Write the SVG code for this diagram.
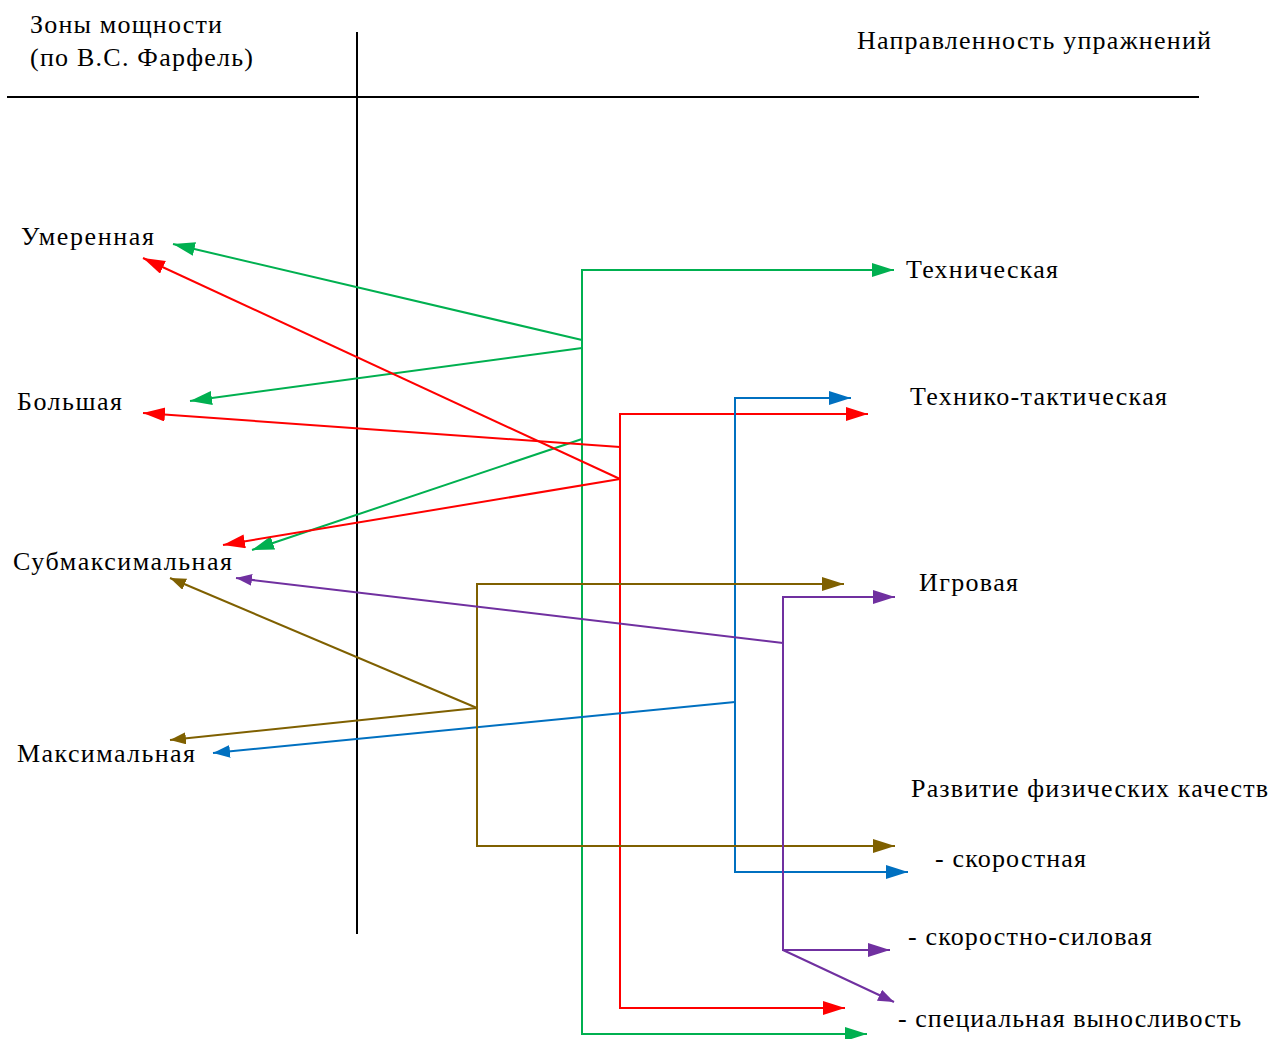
<svg xmlns="http://www.w3.org/2000/svg" width="1272" height="1039" viewBox="0 0 1272 1039">
<style>
text{font-family:"Liberation Serif","Times New Roman",serif;font-size:26px;fill:#000}
.k{stroke:#000;stroke-width:2;fill:none}
.c{fill:none;stroke-width:2}
.g{stroke:#00B050}.r{stroke:#FF0000}.b{stroke:#0070C0}.o{stroke:#7F6000}.p{stroke:#7030A0}
</style>
<defs>
<marker id="ag" markerUnits="userSpaceOnUse" markerWidth="24" markerHeight="16" refX="22" refY="7" orient="auto"><path d="M0,0L22,7L0,14z" fill="#00B050"/></marker>
<marker id="ar" markerUnits="userSpaceOnUse" markerWidth="24" markerHeight="16" refX="22" refY="7" orient="auto"><path d="M0,0L22,7L0,14z" fill="#FF0000"/></marker>
<marker id="ab" markerUnits="userSpaceOnUse" markerWidth="24" markerHeight="16" refX="22" refY="7" orient="auto"><path d="M0,0L22,7L0,14z" fill="#0070C0"/></marker>
<marker id="ao" markerUnits="userSpaceOnUse" markerWidth="24" markerHeight="16" refX="22" refY="7" orient="auto"><path d="M0,0L22,7L0,14z" fill="#7F6000"/></marker>
<marker id="ap" markerUnits="userSpaceOnUse" markerWidth="24" markerHeight="16" refX="22" refY="7" orient="auto"><path d="M0,0L22,7L0,14z" fill="#7030A0"/></marker>
<marker id="sb" markerUnits="userSpaceOnUse" markerWidth="18" markerHeight="14" refX="17" refY="6.5" orient="auto"><path d="M0,0L17,6.5L0,13z" fill="#0070C0"/></marker>
<marker id="so" markerUnits="userSpaceOnUse" markerWidth="18" markerHeight="14" refX="16" refY="6" orient="auto"><path d="M0,0L16,6L0,12z" fill="#7F6000"/></marker>
<marker id="sp" markerUnits="userSpaceOnUse" markerWidth="18" markerHeight="14" refX="16" refY="6" orient="auto"><path d="M0,0L16,6L0,12z" fill="#7030A0"/></marker>
</defs>

<g id="frame">
<line class="k" x1="7" y1="97" x2="1199" y2="97"/>
<line class="k" x1="357" y1="32" x2="357" y2="934"/>
</g>

<g id="header-left"><text x="30" y="33" textLength="192">Зоны мощности</text><text x="30" y="66" textLength="223">(по В.С. Фарфель)</text></g>
<g id="header-right"><text x="857" y="49" textLength="354">Направленность упражнений</text></g>

<g id="zone-moderate"><text x="21" y="245" textLength="133">Умеренная</text></g>
<g id="zone-large"><text x="17" y="410" textLength="105">Большая</text></g>
<g id="zone-submax"><text x="13" y="570" textLength="219">Субмаксимальная</text></g>
<g id="zone-max"><text x="17" y="762" textLength="178">Максимальная</text></g>

<g id="dir-tech"><text x="906" y="278" textLength="152">Техническая</text></g>
<g id="dir-techtact"><text x="910" y="405" textLength="257">Технико-тактическая</text></g>
<g id="dir-game"><text x="919" y="591" textLength="99">Игровая</text></g>
<g id="dir-phys"><text x="911" y="797" textLength="357">Развитие физических качеств</text></g>
<g id="dir-speed"><text x="935" y="867" textLength="151">- скоростная</text></g>
<g id="dir-speedpower"><text x="908" y="945" textLength="244">- скоростно-силовая</text></g>
<g id="dir-endurance"><text x="898" y="1027" textLength="343">- специальная выносливость</text></g>

<g id="connectors">
<!-- green -->
<polyline class="c g" points="582,348 582,270 894,270" marker-end="url(#ag)"/>
<polyline class="c g" points="582,348 582,1034 867,1034" marker-end="url(#ag)"/>
<line class="c g" x1="582" y1="340" x2="173" y2="244" marker-end="url(#ag)"/>
<line class="c g" x1="582" y1="348" x2="190" y2="401" marker-end="url(#ag)"/>
<line class="c g" x1="582" y1="439" x2="252" y2="550" marker-end="url(#ag)"/>
<!-- red -->
<polyline class="c r" points="620,479 620,414 868,414" marker-end="url(#ar)"/>
<polyline class="c r" points="620,479 620,1008 845,1008" marker-end="url(#ar)"/>
<line class="c r" x1="620" y1="447" x2="143" y2="413" marker-end="url(#ar)"/>
<line class="c r" x1="620" y1="479" x2="143" y2="258" marker-end="url(#ar)"/>
<line class="c r" x1="620" y1="479" x2="223" y2="545" marker-end="url(#ar)"/>
<!-- blue -->
<polyline class="c b" points="735,702 735,398 851,398" marker-end="url(#ab)"/>
<polyline class="c b" points="735,702 735,872 908,872" marker-end="url(#ab)"/>
<line class="c b" x1="735" y1="702" x2="213" y2="753" marker-end="url(#sb)"/>
<!-- brown -->
<polyline class="c o" points="477,708 477,584 844,584" marker-end="url(#ao)"/>
<polyline class="c o" points="477,708 477,846 895,846" marker-end="url(#ao)"/>
<line class="c o" x1="477" y1="708" x2="170" y2="578" marker-end="url(#so)"/>
<line class="c o" x1="477" y1="708" x2="170" y2="740" marker-end="url(#so)"/>
<!-- purple -->
<polyline class="c p" points="783,643 783,597 895,597" marker-end="url(#ap)"/>
<polyline class="c p" points="783,643 783,950 890,950" marker-end="url(#ap)"/>
<line class="c p" x1="783" y1="643" x2="236" y2="578" marker-end="url(#sp)"/>
<line class="c p" x1="783" y1="950" x2="894" y2="1002" marker-end="url(#sp)"/>
</g>
</svg>
